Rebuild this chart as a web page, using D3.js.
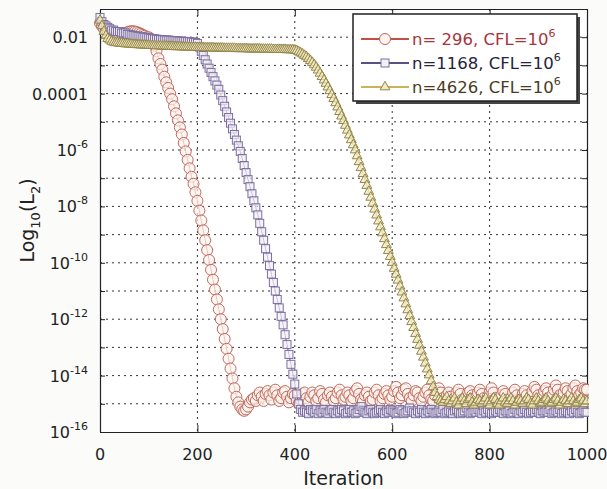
<!DOCTYPE html>
<html>
<head>
<meta charset="utf-8">
<script src="https://cdn.jsdelivr.net/npm/d3@7"></script>
<style>
  body { margin: 0; background: #fbfbf9; }
  svg { font-family: "DejaVu Sans", Verdana, sans-serif; }
</style>
</head>
<body>
<div id="chart"></div>
<script>
// convergence history, log10 of L2 residual, one value every 4 iterations (0..1000)

let step = 4;

let seriesNames = ["n= 296, CFL=10", "n=1168, CFL=10", "n=4626, CFL=10"];
let legendSup = ["6", "6", "6"];

let xTicks = [0, 200, 400, 600, 800, 1000];
let yLabelExp = [-2, -4, -6, -8, -10, -12, -14, -16];
let yGridExp = [-16, -15, -14, -13, -12, -11, -10, -9, -8, -7, -6, -5, -4, -3, -2, -1];

let red296 = [
  -1.5, -1.6, -1.7, -1.75, -1.8, -1.8, -1.85, -1.85, -1.9, -1.9,
  -1.9, -1.9, -1.88, -1.85, -1.82, -1.8, -1.79, -1.79, -1.8, -1.82,
  -1.85, -1.88, -1.92, -1.95, -2.0, -2.0, -2.05, -2.1, -2.3, -2.5,
  -2.75, -2.95, -3.15, -3.4, -3.6, -3.8, -4.0, -4.2, -4.45, -4.7,
  -4.95, -5.2, -5.45, -5.75, -6.05, -6.35, -6.65, -6.95, -7.2, -7.5,
  -7.8, -8.15, -8.5, -8.85, -9.2, -9.55, -9.9, -10.25, -10.6, -10.95,
  -11.3, -11.65, -12.0, -12.35, -12.7, -13.05, -13.4, -13.75, -14.1, -14.45,
  -14.75, -14.95, -15.1, -15.2, -15.25, -15.2, -15.1, -14.95, -14.85, -14.8,
  -14.9, -14.7, -14.6, -14.75, -14.9, -14.65, -14.55, -14.7, -14.85, -14.6,
  -14.5, -14.7, -14.9, -14.8, -14.6, -14.55, -14.75, -14.95, -14.8, -14.65,
  -14.7, -14.9, -15.0, -14.85, -14.65, -14.6, -14.8, -14.95, -14.75, -14.6,
  -14.7, -14.9, -14.8, -14.55, -14.65, -14.85, -14.95, -14.7, -14.6, -14.75,
  -14.9, -14.8, -14.6, -14.5, -14.7, -14.85, -14.75, -14.6, -14.7, -14.9,
  -14.8, -14.55, -14.45, -14.65, -14.85, -14.9, -14.7, -14.6, -14.75, -14.9,
  -14.85, -14.6, -14.5, -14.7, -14.9, -14.8, -14.65, -14.55, -14.7, -14.85,
  -14.75, -14.55, -14.4, -14.6, -14.8, -14.7, -14.5, -14.45, -14.65, -14.8,
  -14.9, -14.7, -14.55, -14.6, -14.8, -14.9, -14.75, -14.6, -14.5, -14.7,
  -14.85, -14.9, -14.7, -14.55, -14.45, -14.6, -14.8, -14.9, -14.7, -14.6,
  -14.75, -14.9, -14.8, -14.6, -14.5, -14.65, -14.85, -14.95, -14.8, -14.6,
  -14.55, -14.7, -14.85, -14.75, -14.6, -14.5, -14.65, -14.8, -14.9, -14.75,
  -14.6, -14.45, -14.6, -14.8, -14.9, -14.85, -14.7, -14.55, -14.65, -14.85,
  -14.95, -14.8, -14.6, -14.5, -14.7, -14.9, -14.85, -14.65, -14.55, -14.7,
  -14.85, -14.75, -14.55, -14.4, -14.5, -14.7, -14.85, -14.75, -14.55, -14.45,
  -14.6, -14.8, -14.7, -14.5, -14.35, -14.5, -14.7, -14.8, -14.6, -14.45,
  -14.55, -14.75, -14.65, -14.45, -14.35, -14.55, -14.7, -14.6, -14.45, -14.5,
  -14.5
];

let blue1168 = [
  -1.3, -1.45, -1.55, -1.6, -1.65, -1.7, -1.75, -1.75, -1.8, -1.8,
  -1.8, -1.85, -1.85, -1.85, -1.9, -1.9, -1.92, -1.94, -1.95, -1.96,
  -1.97, -1.98, -2.0, -2.0, -2.02, -2.03, -2.05, -2.05, -2.06, -2.07,
  -2.08, -2.08, -2.09, -2.1, -2.1, -2.1, -2.11, -2.12, -2.12, -2.13,
  -2.13, -2.14, -2.14, -2.15, -2.15, -2.16, -2.16, -2.17, -2.18, -2.19,
  -2.22, -2.35, -2.5, -2.65, -2.8, -2.95, -3.1, -3.25, -3.4, -3.55,
  -3.7, -3.85, -4.05, -4.25, -4.45, -4.65, -4.85, -5.05, -5.25, -5.45,
  -5.65, -5.85, -6.05, -6.3, -6.55, -6.8, -7.05, -7.3, -7.55, -7.8,
  -8.05, -8.3, -8.6, -8.9, -9.2, -9.5, -9.8, -10.1, -10.4, -10.7,
  -11.0, -11.3, -11.6, -11.9, -12.2, -12.55, -12.9, -13.25, -13.6, -13.95,
  -14.3, -14.65, -15.0, -15.2, -15.3, -15.25, -15.3, -15.35, -15.2, -15.25,
  -15.3, -15.2, -15.35, -15.25, -15.3, -15.2, -15.3, -15.35, -15.25, -15.2,
  -15.3, -15.35, -15.25, -15.3, -15.2, -15.25, -15.35, -15.3, -15.2, -15.3,
  -15.25, -15.35, -15.3, -15.2, -15.1, -15.25, -15.3, -15.35, -15.25, -15.2,
  -15.3, -15.35, -15.3, -15.25, -15.2, -15.3, -15.35, -15.25, -15.3, -15.2,
  -15.25, -15.3, -15.35, -15.3, -15.2, -15.25, -15.35, -15.3, -15.25, -15.15,
  -15.25, -15.3, -15.35, -15.25, -15.3, -15.2, -15.3, -15.35, -15.25, -15.3,
  -15.2, -15.3, -15.35, -15.3, -15.25, -15.3, -15.2, -15.35, -15.3, -15.25,
  -15.3, -15.35, -15.25, -15.2, -15.3, -15.35, -15.3, -15.25, -15.15, -15.3,
  -15.35, -15.3, -15.25, -15.3, -15.2, -15.3, -15.35, -15.25, -15.3, -15.2,
  -15.3, -15.35, -15.3, -15.25, -15.3, -15.2, -15.3, -15.35, -15.25, -15.3,
  -15.25, -15.35, -15.3, -15.2, -15.3, -15.35, -15.25, -15.3, -15.2, -15.3,
  -15.35, -15.3, -15.25, -15.3, -15.2, -15.3, -15.35, -15.25, -15.3, -15.25,
  -15.3, -15.2, -15.35, -15.3, -15.25, -15.3, -15.2, -15.35, -15.3, -15.25,
  -15.3, -15.35, -15.25, -15.3, -15.2, -15.3, -15.35, -15.3, -15.25, -15.3,
  -15.3
];

let yellow4626 = [
  -1.4, -1.6, -1.8, -1.95, -2.05, -2.1, -2.15, -2.18, -2.2, -2.2,
  -2.22, -2.22, -2.23, -2.24, -2.24, -2.25, -2.25, -2.26, -2.26, -2.27,
  -2.27, -2.28, -2.28, -2.28, -2.29, -2.29, -2.3, -2.3, -2.3, -2.31,
  -2.31, -2.31, -2.32, -2.32, -2.32, -2.33, -2.33, -2.33, -2.34, -2.34,
  -2.34, -2.34, -2.35, -2.35, -2.35, -2.35, -2.36, -2.36, -2.36, -2.36,
  -2.37, -2.37, -2.37, -2.37, -2.38, -2.38, -2.38, -2.38, -2.38, -2.39,
  -2.39, -2.39, -2.39, -2.39, -2.4, -2.4, -2.4, -2.4, -2.4, -2.4,
  -2.41, -2.41, -2.41, -2.41, -2.41, -2.41, -2.42, -2.42, -2.42, -2.42,
  -2.42, -2.42, -2.42, -2.43, -2.43, -2.43, -2.43, -2.43, -2.43, -2.44,
  -2.44, -2.44, -2.44, -2.44, -2.44, -2.44, -2.45, -2.45, -2.45, -2.45,
  -2.46, -2.48, -2.52, -2.56, -2.6, -2.65, -2.7, -2.76, -2.83, -2.9,
  -2.98, -3.07, -3.17, -3.28, -3.4, -3.52, -3.64, -3.77, -3.9, -4.04,
  -4.18, -4.33, -4.48, -4.64, -4.8, -4.96, -5.13, -5.3, -5.47, -5.64,
  -5.82, -6.0, -6.21, -6.42, -6.63, -6.84, -7.05, -7.26, -7.47, -7.68,
  -7.89, -8.1, -8.31, -8.52, -8.73, -8.94, -9.15, -9.36, -9.57, -9.78,
  -9.99, -10.2, -10.41, -10.62, -10.83, -11.04, -11.25, -11.46, -11.67, -11.88,
  -12.09, -12.3, -12.51, -12.72, -12.93, -13.14, -13.35, -13.56, -13.77, -13.98,
  -14.19, -14.4, -14.6, -14.75, -14.85, -14.9, -14.95, -14.85, -14.75, -14.9,
  -15.0, -14.9, -14.8, -14.95, -15.05, -14.9, -14.8, -14.9, -15.0, -14.85,
  -14.8, -14.95, -15.05, -14.95, -14.85, -14.9, -15.0, -14.9, -14.8, -14.95,
  -15.05, -14.9, -14.8, -14.85, -15.0, -15.05, -14.9, -14.8, -14.95, -15.0,
  -14.9, -14.8, -14.9, -15.05, -14.95, -14.85, -14.9, -15.0, -14.9, -14.8,
  -14.85, -15.0, -15.05, -14.9, -14.8, -14.9, -15.0, -14.95, -14.85, -14.8,
  -14.9, -15.0, -14.95, -14.85, -14.8, -14.9, -15.05, -14.95, -14.85, -14.9,
  -15.0, -14.9, -14.8, -14.9, -15.0, -14.95, -14.85, -14.8, -14.9, -15.0,
  -14.9
];

// colours per series: line, marker stroke, marker fill, legend text
let lineColors = ["#c0504a", "#5a4f86", "#c9b45a"];
let markStroke = ["#bf6a5c", "#7a6ea0", "#948549"];
let markFill = ["#fdf3ef", "#f3f0f7", "#f1e9c0"];
let textColors = ["#a8343a", "#24243c", "#4a3c24"];

function toPoints(values) {
  let out = [];
  for (let i in values) {
    out.push({ it: i * step, v: Math.pow(10, values[i]) });
  }
  return out;
}

let allSeries = [toPoints(red296), toPoints(blue1168), toPoints(yellow4626)];

let margin = { top: 9, right: 20, bottom: 57, left: 100 };
let W = 607, H = 489;
let w = W - margin.left - margin.right;
let h = H - margin.top - margin.bottom;

let svg = d3.select("#chart").append("svg")
  .attr("width", W)
  .attr("height", H);

let g = svg.append("g")
  .attr("transform", "translate(" + margin.left + "," + margin.top + ")");

let x = d3.scaleLinear().domain([0, 1000]).range([0, w]);
let y = d3.scaleLog().domain([1e-16, 1e-1]).range([h, 0]);

// white plot area
g.append("rect").attr("width", w).attr("height", h).attr("fill", "#fff");

// dotted grid
g.selectAll("line.hgrid")
  .data(yGridExp.filter(e => e > -16 && e < -1))
  .enter().append("line")
  .attr("x1", 0).attr("x2", w)
  .attr("y1", d => y(Math.pow(10, d))).attr("y2", d => y(Math.pow(10, d)))
  .attr("stroke", "#333").attr("stroke-width", 1)
  .attr("stroke-dasharray", "2,4");

g.selectAll("line.vgrid")
  .data(xTicks.filter(d => d > 0 && d < 1000))
  .enter().append("line")
  .attr("y1", 0).attr("y2", h)
  .attr("x1", d => x(d)).attr("x2", d => x(d))
  .attr("stroke", "#333").attr("stroke-width", 1)
  .attr("stroke-dasharray", "2,4");

// axes, ticks drawn inward on all four sides
let tickFmtNone = () => "";
g.append("g").attr("transform", "translate(0," + h + ")")
  .call(d3.axisBottom(x).tickValues(xTicks).tickSizeInner(-7).tickSizeOuter(0).tickFormat(tickFmtNone));
g.append("g")
  .call(d3.axisTop(x).tickValues(xTicks).tickSizeInner(-7).tickSizeOuter(0).tickFormat(tickFmtNone));
g.append("g")
  .call(d3.axisLeft(y).tickValues(yGridExp.map(e => Math.pow(10, e))).tickSizeInner(-5).tickSizeOuter(0).tickFormat(tickFmtNone));
g.append("g").attr("transform", "translate(" + w + ",0)")
  .call(d3.axisRight(y).tickValues(yGridExp.map(e => Math.pow(10, e))).tickSizeInner(-5).tickSizeOuter(0).tickFormat(tickFmtNone));
g.selectAll(".domain").attr("stroke", "#222").attr("stroke-width", 1.2);
g.selectAll(".tick line").attr("stroke", "#222");

// tick labels
g.selectAll("text.xlab")
  .data(xTicks)
  .enter().append("text")
  .attr("x", d => x(d)).attr("y", h + 28)
  .attr("text-anchor", "middle")
  .attr("font-size", 16).attr("fill", "#222")
  .text(d => d);

yLabelExp.forEach(function(e) {
  let t = g.append("text")
    .attr("x", -12).attr("y", y(Math.pow(10, e)) + 6)
    .attr("text-anchor", "end")
    .attr("font-size", 16).attr("fill", "#222");
  if (e === -2) {
    t.text("0.01");
  } else if (e === -4) {
    t.text("0.0001");
  } else {
    t.append("tspan").text("10");
    t.append("tspan").attr("dy", -8).attr("font-size", 11).text(e);
  }
});

// axis titles
svg.append("text")
  .attr("x", margin.left + w / 2).attr("y", H - 4)
  .attr("text-anchor", "middle").attr("font-size", 19).attr("fill", "#222")
  .text("Iteration");

let yt = svg.append("text")
  .attr("transform", "translate(34," + (margin.top + h / 2) + ")rotate(-90)")
  .attr("text-anchor", "middle").attr("font-size", 19).attr("fill", "#222");
yt.append("tspan").text("Log");
yt.append("tspan").attr("dy", 6).attr("font-size", 13).text("10");
yt.append("tspan").attr("dy", -6).text("(L");
yt.append("tspan").attr("dy", 6).attr("font-size", 13).text("2");
yt.append("tspan").attr("dy", -6).text(")");

// markers
let tri = d3.symbol().type(d3.symbolTriangle).size(42);

function drawMarker(sel, k) {
  if (k === 0) {
    sel.append("circle").attr("r", 5.5);
  } else if (k === 1) {
    sel.append("rect").attr("x", -4).attr("y", -4).attr("width", 8).attr("height", 8);
  } else {
    sel.append("path").attr("d", tri);
  }
}

let clip = svg.append("clipPath").attr("id", "plotclip")
  .append("rect").attr("x", -8).attr("y", -8).attr("width", w + 10).attr("height", h + 16);

let line = d3.line().x(d => x(d.it)).y(d => y(d.v));

allSeries.forEach(function(data, k) {
  let sg = g.append("g").attr("clip-path", "url(#plotclip)");
  sg.append("path")
    .datum(data)
    .attr("fill", "none")
    .attr("stroke", lineColors[k])
    .attr("stroke-width", 1)
    .attr("d", line);
  let m = sg.selectAll("g.m")
    .data(data)
    .enter().append("g")
    .attr("transform", d => "translate(" + x(d.it) + "," + y(d.v) + ")");
  drawMarker(m, k);
  m.selectAll("circle, rect, path")
    .attr("fill", markFill[k]).attr("fill-opacity", 0.7)
    .attr("stroke", markStroke[k]).attr("stroke-width", 1);
});

// legend with drop shadow
let lg = svg.append("g").attr("transform", "translate(353,14)");
lg.append("rect").attr("x", 3).attr("y", 3).attr("width", 224).attr("height", 87).attr("fill", "#444");
lg.append("rect").attr("width", 224).attr("height", 87).attr("fill", "#fff")
  .attr("stroke", "#222").attr("stroke-width", 1.5);

seriesNames.forEach(function(name, k) {
  let ly = 25 + k * 24;
  lg.append("line").attr("x1", 8).attr("x2", 56).attr("y1", ly).attr("y2", ly)
    .attr("stroke", lineColors[k]).attr("stroke-width", 2);
  let mk = lg.append("g").attr("transform", "translate(32," + ly + ")");
  drawMarker(mk, k);
  mk.selectAll("circle, rect, path")
    .attr("fill", markFill[k]).attr("stroke", markStroke[k]).attr("stroke-width", 1);
  let t = lg.append("text").attr("x", 59).attr("y", ly + 6)
    .attr("font-size", 16.5).attr("fill", textColors[k]);
  t.append("tspan").text(name);
  t.append("tspan").attr("dy", -8).attr("font-size", 11).text(legendSup[k]);
});
</script>
</body>
</html>
